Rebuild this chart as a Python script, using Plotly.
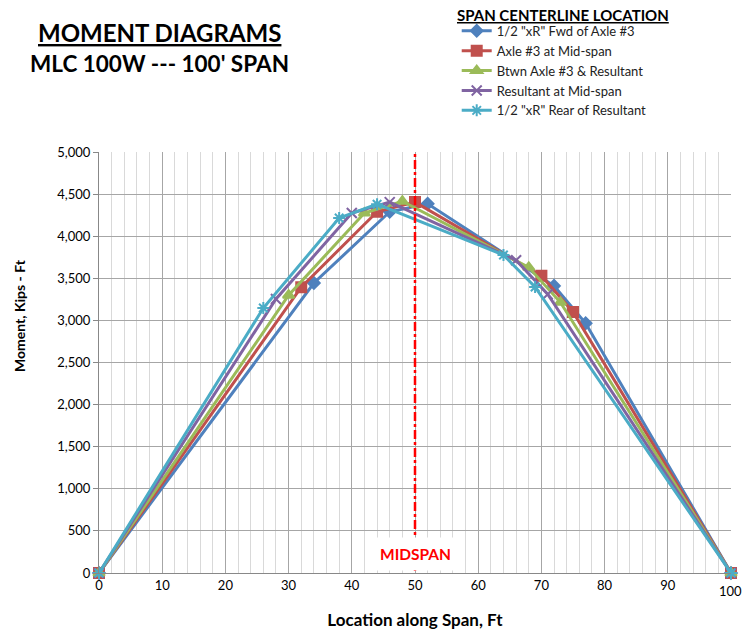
import plotly.graph_objects as go

# Data
names = ['1/2 "xR" Fwd of Axle #3', 'Axle #3 at Mid-span', 'Btwn Axle #3 & Resultant',
         'Resultant at Mid-span', '1/2 "xR" Rear of Resultant']
x_fwd = [0, 34, 46, 52, 72, 77, 100]
m_fwd = [0, 3444, 4290, 4385, 3410, 2965, 0]
x_axle = [0, 32, 44, 50, 70, 75, 100]
m_axle = [0, 3395, 4290, 4405, 3530, 3100, 0]
x_btwn = [0, 30, 42, 48, 68, 73, 100]
m_btwn = [0, 3300, 4275, 4415, 3630, 3215, 0]
x_res = [0, 28, 40, 46, 66, 71, 100]
m_res = [0, 3255, 4275, 4405, 3715, 3310, 0]
x_rear = [0, 26, 38, 44, 64, 69, 100]
m_rear = [0, 3147, 4216, 4380, 3777, 3397, 0]

x_tickvals = [0, 10, 20, 30, 40, 50, 60, 70, 80, 90, 100]
x_ticktext = ['0', '10', '20', '30', '40', '50', '60', '70', '80', '90', '']
last_x_label = '100'

xs = [x_fwd, x_axle, x_btwn, x_res, x_rear]
ms = [m_fwd, m_axle, m_btwn, m_res, m_rear]
colors = ['#4F81BD', '#C0504D', '#9BBB59', '#8064A2', '#4BACC6']
symbols = ['diamond', 'square', 'triangle-up', 'x-thin', 'asterisk']
sizes = [9, 10, 10, 10, 10]

FONT = 'Lato, Calibri, sans-serif'

fig = go.Figure()
for n, x, m, c, s, sz in zip(names, xs, ms, colors, symbols, sizes):
    fig.add_trace(go.Scatter(
        x=x, y=m, name=n, mode='lines+markers',
        line=dict(color=c, width=3),
        marker=dict(symbol=s, size=sz, color=c, line=dict(color=c, width=2)),
        cliponaxis=False,
    ))

fig.add_shape(type='line', xref='x', yref='y', x0=50, x1=50, y0=-120, y1=5000,
              line=dict(color='#FF0000', width=2.5, dash='dashdot'), layer='above')

fig.add_annotation(x=50, y=230, xref='x', yref='y', text='<b>MIDSPAN</b>',
                   showarrow=False, font=dict(family=FONT, size=15.5, color='#FF0000'),
                   bgcolor='white', borderpad=7)

# last x tick label kept inside the page
fig.add_annotation(x=100, y=0, xref='x', yref='y', text=last_x_label,
                   xanchor='right', yanchor='middle', xshift=13, yshift=-18,
                   showarrow=False, font=dict(family=FONT, size=13, color='black'))

fig.add_annotation(x=0.095, y=1.285, xref='paper', yref='paper',
                   xanchor='center', yanchor='middle',
                   text='<b><u>MOMENT DIAGRAMS</u></b>', showarrow=False,
                   font=dict(family=FONT, size=24, color='black'))
fig.add_annotation(x=0.095, y=1.211, xref='paper', yref='paper',
                   xanchor='center', yanchor='middle',
                   text="<b>MLC 100W --- 100' SPAN</b>", showarrow=False,
                   font=dict(family=FONT, size=22.5, color='black'))
fig.add_annotation(x=0.5633, y=1.3254, xref='paper', yref='paper', xanchor='left',
                   yanchor='middle', text='<b><u>SPAN CENTERLINE LOCATION</u></b>',
                   showarrow=False, font=dict(family=FONT, size=15, color='black'))
fig.add_annotation(x=-0.125, y=0.6105, xref='paper', yref='paper', xanchor='center',
                   yanchor='middle', textangle=-90, text='<b>Moment, Kips - Ft</b>',
                   showarrow=False, font=dict(family=FONT, size=14, color='black'))

fig.update_layout(
    width=742, height=632,
    margin=dict(l=99, r=11, t=152, b=59, autoexpand=False),
    paper_bgcolor='white', plot_bgcolor='white',
    font=dict(family=FONT, size=12, color='black'),
    showlegend=True,
    legend=dict(
        x=0.566, y=1.3235, xanchor='left', yanchor='top',
        font=dict(family=FONT, size=13, color='#222'),
        itemwidth=30, tracegroupgap=0, bgcolor='rgba(0,0,0,0)',
    ),
    xaxis=dict(
        range=[0, 100], tickvals=x_tickvals, ticktext=x_ticktext,
        showgrid=True, gridcolor='#A6A6A6', gridwidth=1,
        minor=dict(dtick=2, tick0=0, showgrid=True, gridcolor='#D9D9D9', gridwidth=1),
        showline=True, linecolor='#888888', linewidth=1, zeroline=False,
        ticks='', tickfont=dict(family=FONT, size=13, color='black'),
        title=dict(text='<b>Location along Span, Ft</b>',
                   font=dict(family=FONT, size=17, color='black'), standoff=22),
    ),
    yaxis=dict(
        range=[0, 5000], dtick=500, tickformat=',', showgrid=True,
        gridcolor='#A6A6A6', gridwidth=1,
        showline=True, linecolor='#888888', linewidth=1, zeroline=False,
        ticks='outside', ticklen=5, tickcolor='#888888',
        tickfont=dict(family=FONT, size=13, color='black'),
    ),
)

fig.write_html(
    'out.html',
    config={'displayModeBar': False},
    post_script="document.body.style.margin='0';document.body.style.overflow='hidden';",
)
